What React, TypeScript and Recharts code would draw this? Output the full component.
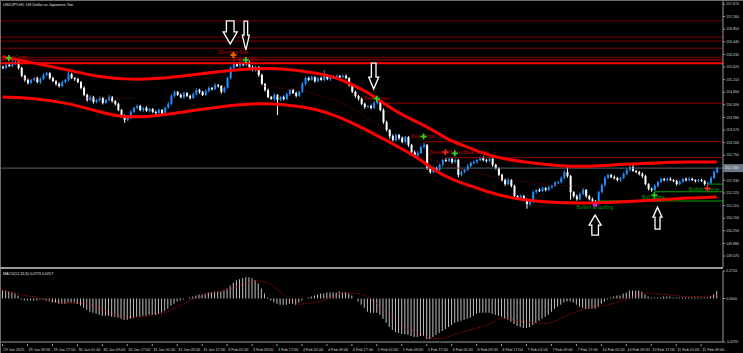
import React from 'react'
import { ComposedChart, Bar, Line, XAxis, YAxis, ReferenceLine, ReferenceDot } from 'recharts'

// USDJPY H1 closes (open = previous close)
const open0 = 155.62
const closes = [
  155.59, 155.69, 155.65, 155.75, 155.78, 155.59, 155.33, 155.2, 155.1, 155.2,
  155.26, 155.13, 155.23, 155.36, 155.42, 155.26, 155.16, 155.07, 155.0, 155.13,
  155.2, 155.39, 155.26, 155.23, 155.13, 154.94, 154.71, 154.55, 154.64, 154.48,
  154.55, 154.61, 154.45, 154.55, 154.64, 154.51, 154.42, 154.22, 154.03, 153.9,
  153.96, 154.16, 154.29, 154.35, 154.22, 154.29, 154.19, 154.25, 154.16, 154.12,
  154.22, 154.09, 154.29, 154.42, 154.68, 154.81, 154.71, 154.64, 154.77, 154.68,
  154.61, 154.74, 154.87, 154.81, 154.71, 154.84, 154.94, 154.9, 155.03, 155.0,
  154.81, 154.94, 155.26, 155.59, 155.72, 155.65, 155.75, 155.69, 155.78, 155.62,
  155.52, 155.62, 155.36, 155.07, 154.87, 154.64, 154.58, 154.71, 154.55, 154.64,
  154.58, 154.74, 154.87, 154.77, 154.68, 154.81, 155.07, 155.26, 155.2, 155.29,
  155.16, 155.26, 155.2, 155.33, 155.23, 155.29, 155.26, 155.33, 155.29, 155.33,
  155.26, 155.03, 154.81, 154.68, 154.58, 154.42, 154.32, 154.35, 154.29, 154.45,
  154.51, 154.22, 153.83, 153.57, 153.37, 153.24, 153.41, 153.31, 153.18, 153.34,
  153.08, 152.85, 152.72, 152.82, 153.02, 153.08, 152.33, 152.2, 152.33, 152.27,
  152.43, 152.59, 152.56, 152.63, 152.53, 152.59, 152.11, 152.2, 152.27, 152.4,
  152.5, 152.53, 152.59, 152.66, 152.59, 152.56, 152.63, 152.43, 152.33, 152.11,
  151.94, 151.81, 151.94, 151.75, 151.42, 151.36, 151.42, 151.32, 151.16, 151.23,
  151.55, 151.62, 151.58, 151.68, 151.62, 151.71, 151.75, 151.85, 151.88, 152.01,
  152.2, 152.07, 151.55, 151.42, 151.32, 151.49, 151.62, 151.42, 151.32, 151.26,
  151.19, 151.55, 151.78, 152.01, 152.11, 152.04, 152.01, 151.94, 152.01, 152.14,
  152.27, 152.37, 152.24, 152.2, 152.14, 152.07, 151.81, 151.65, 151.62, 151.75,
  151.88, 151.98, 151.94, 151.98, 151.94, 151.91, 151.81, 151.88, 151.98, 151.94,
  151.98, 151.94, 151.91, 151.94, 151.91, 151.81, 151.85, 152.01, 152.2, 152.33,
]

// wick lengths above / below the body, in pips
const upWick = [
  5, 4, 6, 16, 5, 4, 3, 4, 5, 4, 3, 5, 4, 6, 4, 3, 4, 3, 5, 4,
  3, 13, 4, 3, 4, 3, 5, 4, 6, 4, 3, 5, 4, 3, 6, 4, 3, 4, 3, 5,
  4, 6, 3, 5, 4, 3, 5, 4, 3, 4, 5, 3, 4, 6, 5, 4, 3, 5, 4, 3,
  4, 5, 6, 4, 3, 5, 4, 3, 6, 4, 3, 5, 4, 6, 8, 5, 20, 4, 6, 4,
  5, 4, 3, 4, 3, 5, 4, 6, 3, 4, 5, 4, 3, 4, 5, 3, 6, 5, 4, 5,
  3, 4, 5, 19, 4, 3, 5, 4, 3, 4, 5, 3, 4, 4, 3, 5, 4, 3, 5, 6,
  4, 3, 5, 4, 3, 6, 4, 3, 5, 4, 3, 4, 5, 6, 4, 8, 3, 4, 5, 4,
  5, 4, 6, 4, 3, 5, 4, 5, 3, 6, 4, 5, 3, 4, 6, 4, 3, 5, 4, 3,
  4, 5, 6, 3, 4, 3, 5, 4, 3, 5, 4, 3, 5, 4, 3, 5, 4, 6, 4, 5,
  6, 20, 4, 3, 5, 4, 6, 3, 4, 5, 3, 4, 5, 6, 4, 3, 5, 4, 3, 5,
  4, 12, 5, 3, 4, 5, 4, 3, 5, 6, 4, 5, 3, 4, 5, 3, 4, 6, 3, 4,
  5, 4, 3, 4, 5, 3, 4, 5, 6, 4,
]
const dnWick = [
  4, 5, 3, 4, 6, 5, 4, 6, 5, 3, 5, 4, 6, 3, 4, 5, 3, 6, 5, 4,
  4, 5, 3, 6, 4, 5, 4, 6, 3, 5, 4, 6, 5, 3, 4, 5, 6, 4, 5, 10,
  5, 4, 3, 5, 4, 6, 3, 5, 4, 6, 3, 5, 4, 3, 4, 5, 3, 4, 6, 4,
  5, 3, 4, 6, 4, 3, 5, 4, 3, 5, 6, 4, 3, 5, 4, 3, 6, 5, 4, 5,
  4, 5, 6, 4, 5, 4, 3, 6, 50, 4, 5, 4, 6, 3, 5, 4, 3, 5, 4, 3,
  5, 4, 3, 5, 4, 6, 3, 4, 5, 3, 4, 5, 4, 6, 5, 4, 6, 3, 5, 4,
  5, 4, 6, 5, 8, 4, 5, 6, 4, 5, 6, 4, 5, 3, 4, 5, 6, 5, 4, 6,
  4, 5, 3, 4, 6, 4, 8, 5, 4, 3, 5, 4, 6, 3, 4, 5, 4, 6, 5, 4,
  5, 6, 4, 5, 6, 4, 5, 4, 15, 6, 4, 5, 3, 4, 5, 4, 6, 3, 4, 5,
  4, 5, 25, 6, 5, 4, 5, 6, 4, 5, 12, 4, 5, 6, 3, 4, 5, 4, 6, 3,
  4, 5, 3, 4, 5, 6, 4, 5, 6, 4, 5, 3, 4, 5, 3, 4, 5, 4, 3, 5,
  4, 3, 5, 4, 3, 5, 6, 4, 3, 4,
]

// envelope bands, [bar, price]
const upperBand = [
  [0, 155.95], [10, 155.75], [21, 155.52], [31, 155.29], [42, 155.2], [53, 155.26],
  [63, 155.39], [74, 155.52], [85, 155.59], [95, 155.52], [106, 155.33], [111, 155.1],
  [117, 154.81], [122, 154.45], [127, 154.12], [133, 153.83], [138, 153.57], [143, 153.24],
  [149, 153.02], [154, 152.82], [159, 152.66], [167, 152.53], [178, 152.4], [188, 152.37],
  [199, 152.46], [210, 152.5], [220, 152.53], [229, 152.53],
]
const lowerBand = [
  [0, 154.64], [10, 154.61], [21, 154.45], [31, 154.16], [38, 153.99], [47, 153.99],
  [58, 154.16], [69, 154.32], [80, 154.44], [90, 154.42], [101, 154.25],
  [108, 153.99], [115, 153.67], [124, 153.18], [133, 152.69], [139, 152.2], [146, 151.88],
  [154, 151.62], [159, 151.45], [167, 151.29], [178, 151.19], [188, 151.19], [199, 151.23],
  [210, 151.29], [220, 151.36], [229, 151.39],
]
// visible pieces of the dotted average
const maSegments = [
  [[0, 155.29], [12, 155.2]],
  [[26, 154.61], [42, 154.61]],
  [[83, 155.0], [95, 154.87]],
  [[96, 154.87], [110, 154.38], [123, 153.57]],
  [[130, 152.82], [158, 152.04], [187, 151.71]],
]

const resistLevels = [157.12, 156.59, 156.46, 156.23]
const zoneLevels = [155.93, 155.85, 155.74]
const partialLevels = [[122, 154.44], [135, 153.19], [142, 152.67]]
const supportLevels = [[191, 151.26], [209, 151.56], [226, 151.81]]

const bearTexts = [
  [0, 155.93, 'Bear Cross'], [69, 156.11, 'Shooting Star'], [74, 155.88, 'Bear Cross'],
  [116, 154.61, 'Bear Cross'], [131, 153.37, 'Bear Cross'], [137, 152.85, 'Bearish Harami'],
  [148, 152.85, 'Bear Cross'],
]
const bullTexts = [
  [184, 151.06, 'Bullish Engulfing'], [205, 151.38, 'Bull Cross'], [220, 151.64, 'Bullish Pierce'],
]
const marks = [
  [2, 155.91, 'cross'], [74, 156.01, 'star'], [78, 155.85, 'cross'], [120, 154.59, 'cross'],
  [135, 153.36, 'cross'], [142, 152.85, 'harami'], [145, 152.81, 'cross'],
  [190, 151.13, 'engulf'], [209, 151.45, 'cross'], [226, 151.67, 'pierce'],
]
const bigArrows = [
  [73, 156.37, 'down'], [78, 156.17, 'down'], [119, 154.9, 'down'], [190, 150.8, 'up'], [210, 151.06, 'up'],
]

// MACD histogram and signal
const hist = [
  0.08, 0.08, 0.07, 0.06, 0.05, 0.03, -0.01, -0.02, -0.02, -0.02,
  -0.02, -0.02, -0.01, -0.01, -0.02, -0.03, -0.04, -0.04, -0.05, -0.05,
  -0.05, -0.04, -0.04, -0.04, -0.05, -0.07, -0.09, -0.11, -0.13, -0.14,
  -0.15, -0.16, -0.17, -0.17, -0.17, -0.18, -0.18, -0.19, -0.2, -0.21,
  -0.21, -0.2, -0.19, -0.18, -0.18, -0.17, -0.17, -0.16, -0.16, -0.16,
  -0.15, -0.14, -0.12, -0.1, -0.07, -0.05, -0.03, -0.02, -0.01, 0,
  0.01, 0.02, 0.03, 0.04, 0.04, 0.05, 0.06, 0.06, 0.07, 0.07,
  0.07, 0.08, 0.1, 0.13, 0.16, 0.18, 0.19, 0.2, 0.21, 0.21,
  0.2, 0.18, 0.15, 0.1, 0.05, 0.01, -0.02, -0.04, -0.05, -0.06,
  -0.06, -0.06, -0.05, -0.05, -0.06, -0.04, -0.02, 0, 0.01, 0.02,
  0.03, 0.04, 0.05, 0.05, 0.06, 0.06, 0.06, 0.06, 0.07, 0.06,
  0.06, 0.05, 0.03, 0, -0.03, -0.06, -0.09, -0.13, -0.14, -0.14,
  -0.14, -0.16, -0.2, -0.24, -0.28, -0.31, -0.33, -0.34, -0.35, -0.35,
  -0.36, -0.37, -0.38, -0.38, -0.37, -0.37, -0.4, -0.4, -0.38, -0.36,
  -0.34, -0.32, -0.3, -0.28, -0.26, -0.24, -0.23, -0.22, -0.21, -0.2,
  -0.19, -0.17, -0.15, -0.14, -0.14, -0.14, -0.14, -0.15, -0.16, -0.17,
  -0.18, -0.2, -0.21, -0.23, -0.25, -0.27, -0.28, -0.29, -0.29, -0.28,
  -0.26, -0.24, -0.22, -0.2, -0.18, -0.16, -0.13, -0.1, -0.08, -0.06,
  -0.04, -0.03, -0.03, -0.04, -0.06, -0.08, -0.09, -0.1, -0.1, -0.1,
  -0.1, -0.08, -0.05, -0.03, -0.01, 0.01, 0.02, 0.03, 0.03, 0.05,
  0.06, 0.08, 0.08, 0.08, 0.08, 0.07, 0.04, 0.02, 0.01, 0.01,
  0.01, 0.01, 0.02, 0.02, 0.02, 0.01, 0.01, 0.01, 0.01, 0.01,
  0.01, 0.01, 0.01, 0.01, 0.01, 0.01, 0.01, 0.02, 0.04, 0.077,
]
const signal = [
  [0, 0.085], [13, -0.005], [21, -0.045], [25, -0.045], [40, -0.185], [51, -0.145],
  [62, 0.005], [74, 0.105], [82, 0.175], [85, 0.155], [90, 0.045], [95, -0.055],
  [102, -0.025], [110, 0.055], [115, 0.045], [118, -0.005], [124, -0.155], [132, -0.325],
  [139, -0.395], [148, -0.325], [158, -0.225], [160, -0.19], [166, -0.225], [174, -0.245],
  [182, -0.155], [187, -0.095], [195, -0.055], [201, 0.005], [206, 0.055], [214, 0.035],
  [220, 0.02], [229, 0.026],
]

const priceTicks = [157.67, 157.26, 156.85, 156.44, 156.03, 155.62, 155.21, 154.8, 154.39, 153.98,
  153.57, 153.16, 152.75, 151.93, 151.52, 151.11, 150.7, 150.29, 149.88, 149.47]
const macdTicks = [0.2724, 0, -0.429]
const timeBars = [0, 8, 16, 24, 32, 40, 48, 56, 64, 72, 80, 88, 96, 104, 112, 120, 128, 136, 144,
  152, 160, 168, 176, 184, 192, 200, 208, 216, 224]
const timeLabels = ['29 Jan 2025', '29 Jan 09:00', '29 Jan 17:00', '30 Jan 01:00', '30 Jan 09:00',
  '30 Jan 17:00', '31 Jan 01:00', '31 Jan 09:00', '31 Jan 17:00', '3 Feb 01:00', '3 Feb 09:00',
  '3 Feb 17:00', '4 Feb 01:00', '4 Feb 09:00', '4 Feb 17:00', '5 Feb 01:00', '5 Feb 09:00',
  '5 Feb 17:00', '6 Feb 01:00', '6 Feb 09:00', '6 Feb 17:00', '7 Feb 01:00', '7 Feb 09:00',
  '7 Feb 17:00', '10 Feb 01:00', '10 Feb 09:00', '10 Feb 17:00', '11 Feb 01:00', '11 Feb 09:00']

const bid = closes[closes.length - 1]

const rows: any[] = closes.map((c, i) => {
  const o = i === 0 ? open0 : closes[i - 1]
  const hi = Math.max(o, c) + upWick[i] / 100
  const lo = Math.min(o, c) - dnWick[i] / 100
  return { i, o, c, hi, lo, range: [lo, hi], macd: hist[i] }
})
upperBand.forEach(([i, v]) => { rows[i].up = v })
lowerBand.forEach(([i, v]) => { rows[i].dn = v })
signal.forEach(([i, v]) => { rows[i].sig = v })
maSegments.forEach((seg, k) => seg.forEach(([i, v]) => { rows[i]['ma' + k] = v }))

const FONT = 'Liberation Sans, Arial, sans-serif'
const X_DOMAIN: [number, number] = [-0.5, 231]
const zoneStroke = ['#5a0000', '#8a0000', '#ff0000']
const zoneWidth = [1.5, 1.2, 2]

const Candle = (props: any) => {
  const { x, y, width, height, payload } = props
  if (!payload) return null
  const { o, c, hi, lo } = payload
  const top = Math.min(y, y + height)
  const h = Math.abs(height)
  const py = (v: number) => top + ((hi - v) / (hi - lo)) * h
  const col = c > o ? '#1e90ff' : '#ffffff'
  const cx = x + width / 2
  const bt = py(Math.max(o, c))
  const bb = py(Math.min(o, c))
  return (
    <g>
      <line x1={cx} x2={cx} y1={top} y2={top + h} stroke={col} strokeWidth={1} />
      <rect x={x} y={bt} width={width} height={Math.max(1, bb - bt)} fill={col} />
    </g>
  )
}

const PriceTick = ({ x, y, payload }: any) => {
  const v = payload.value
  if (v === bid) {
    return (
      <g>
        <rect x={x} y={y - 4} width={20} height={8} fill="#6b7885" />
        <text x={x + 2} y={y + 1.4} fontSize={3.8} fontFamily={FONT} fill="#e8e8e8">{v.toFixed(3)}</text>
      </g>
    )
  }
  return (
    <g>
      <line x1={x} x2={x + 2} y1={y} y2={y} stroke="#9a9a9a" />
      <text x={x + 3} y={y + 1.3} fontSize={3.6} fontFamily={FONT} fill="#d0d0d0">{v.toFixed(3)}</text>
    </g>
  )
}

const MacdTick = ({ x, y, payload }: any) => (
  <g>
    <line x1={x} x2={x + 2} y1={y} y2={y} stroke="#9a9a9a" />
    <text x={x + 3} y={y + 1.3} fontSize={3.6} fontFamily={FONT} fill="#d0d0d0">{payload.value.toFixed(4)}</text>
  </g>
)

const TimeTick = ({ x, y, payload }: any) => {
  const k = timeBars.indexOf(payload.value)
  return (
    <g>
      <line x1={x} x2={x} y1={y} y2={y + 2} stroke="#9a9a9a" />
      <text x={x + 1} y={y + 7} fontSize={3.8} fontFamily={FONT} fill="#d0d0d0">{timeLabels[k]}</text>
    </g>
  )
}

const textShape = (label: string, color: string) => (p: any) => (
  <text x={p.cx} y={p.cy + 1.8} fontSize={5} fontFamily={FONT} fill={color}>{label}</text>
)

const markColor: Record<string, string> = {
  cross: '#22e022', star: '#ff7a00', harami: '#ff2020', pierce: '#ff2020', engulf: '#ff00ff',
}
const markShape = (kind: string) => (p: any) => {
  const col = markColor[kind]
  if (kind === 'engulf') return <circle cx={p.cx} cy={p.cy} r={2} fill={col} />
  return (
    <g fill={col}>
      <rect x={p.cx - 0.8} y={p.cy - 3} width={1.6} height={6} />
      <rect x={p.cx - 3} y={p.cy - 0.8} width={6} height={1.6} />
    </g>
  )
}

// head width, shaft width, total length, head length
const arrowSize = [[7, 3.8, 23, 12], [3.5, 1.8, 29, 15], [5, 2.3, 26, 12], [6, 3.3, 20, 10], [4.5, 2.5, 22, 10]]
const arrowShape = (dir: string, k: number) => (p: any) => {
  const [W, w, H, hh] = arrowSize[k]
  const s = dir === 'down' ? -1 : 1
  const { cx, cy } = p
  const pts = [[cx - w, cy + s * H], [cx + w, cy + s * H], [cx + w, cy + s * hh], [cx + W, cy + s * hh],
    [cx, cy], [cx - W, cy + s * hh], [cx - w, cy + s * hh]]
  return <polygon points={pts.map((q) => q.join(',')).join(' ')} fill="#000" stroke="#fff" strokeWidth={1.3} />
}

export default function App() {
  return (
    <div style={{ position: 'absolute', left: 0, top: 0, width: 743, height: 353, background: '#000', overflow: 'hidden' }}>
      <div style={{ position: 'absolute', left: 0, top: 0 }}>
        <ComposedChart width={743} height={268} data={rows} margin={{ top: 1, right: 0, bottom: 1, left: 1 }}>
          <XAxis dataKey="i" type="number" domain={X_DOMAIN} hide allowDataOverflow />
          <YAxis orientation="right" width={20} domain={[149.112, 157.767]} allowDataOverflow
            ticks={[...priceTicks, bid]} interval={0} tick={<PriceTick />} tickLine={false} tickSize={0} tickMargin={0}
            axisLine={{ stroke: '#9a9a9a' }} />
          {resistLevels.map((v) => <ReferenceLine key={v} y={v} stroke="#7a0000" strokeWidth={1} />)}
          {zoneLevels.map((v, k) => (
            <ReferenceLine key={v} y={v} stroke={zoneStroke[k]} strokeWidth={zoneWidth[k]} />
          ))}
          {partialLevels.map(([i, v]) => (
            <ReferenceLine key={v} segment={[{ x: i, y: v }, { x: 231, y: v }]} stroke="#8a0000" strokeWidth={1} />
          ))}
          {supportLevels.map(([i, v]) => (
            <ReferenceLine key={v} segment={[{ x: i, y: v }, { x: 231, y: v }]} stroke="#00a000" strokeWidth={1} />
          ))}
          <ReferenceLine y={bid} stroke="#56616c" strokeWidth={1} />
          <Bar dataKey="range" barSize={2} shape={<Candle />} isAnimationActive={false} />
          {maSegments.map((_, k) => (
            <Line key={k} dataKey={'ma' + k} type="monotone" connectNulls dot={false} stroke="#8b0000"
              strokeWidth={1} strokeDasharray="1 2" isAnimationActive={false} />
          ))}
          <Line dataKey="up" type="basis" connectNulls dot={false} stroke="#ff0000" strokeWidth={3} isAnimationActive={false} />
          <Line dataKey="dn" type="basis" connectNulls dot={false} stroke="#ff0000" strokeWidth={3} isAnimationActive={false} />
          {bearTexts.map(([i, v, t]: any, k) => (
            <ReferenceDot key={'bt' + k} x={i} y={v} r={1} ifOverflow="visible" shape={textShape(t, '#b40000')} />
          ))}
          {bullTexts.map(([i, v, t]: any, k) => (
            <ReferenceDot key={'gt' + k} x={i} y={v} r={1} ifOverflow="visible" shape={textShape(t, '#00a000')} />
          ))}
          {marks.map(([i, v, kind]: any, k) => (
            <ReferenceDot key={'m' + k} x={i} y={v} r={1} ifOverflow="visible" shape={markShape(kind)} />
          ))}
          {bigArrows.map(([i, v, dir]: any, k) => (
            <ReferenceDot key={'a' + k} x={i} y={v} r={1} ifOverflow="visible" shape={arrowShape(dir, k)} />
          ))}
        </ComposedChart>
      </div>
      <div style={{ position: 'absolute', left: 0, top: 268 }}>
        <ComposedChart width={743} height={85} data={rows} margin={{ top: 3, right: 0, bottom: 0, left: 1 }}>
          <XAxis dataKey="i" type="number" domain={X_DOMAIN} allowDataOverflow ticks={timeBars} interval={0}
            tick={<TimeTick />} tickLine={false} tickSize={0} height={11} axisLine={{ stroke: '#9a9a9a' }} />
          <YAxis orientation="right" width={20} domain={[-0.429, 0.2724]} allowDataOverflow ticks={macdTicks}
            interval={0} tick={<MacdTick />} tickLine={false} tickSize={0} tickMargin={0} axisLine={{ stroke: '#9a9a9a' }} />
          <Bar dataKey="macd" barSize={1} fill="#c0c0c0" isAnimationActive={false} />
          <Line dataKey="sig" type="monotone" connectNulls dot={false} stroke="#d01010" strokeWidth={1}
            strokeDasharray="1 1.5" isAnimationActive={false} />
        </ComposedChart>
      </div>
      <div style={{ position: 'absolute', left: 0, top: 0, width: 743, height: 1, background: '#6e6e6e' }} />
      <div style={{ position: 'absolute', left: 0, top: 0, width: 1, height: 353, background: '#6e6e6e' }} />
      <div style={{ position: 'absolute', left: 0, top: 267, width: 723, height: 2, background: '#9a9a9a' }} />
      <svg width={743} height={353} style={{ position: 'absolute', left: 0, top: 0, pointerEvents: 'none' }}>
        <text x={3} y={6} fontSize={3.9} fontFamily={FONT} fill="#e0e0e0">USDJPY,H1:  US Dollar vs Japanese Yen</text>
        <text x={3} y={275} fontSize={3.7} fontFamily={FONT} fill="#e0e0e0">MACD(12,26,9) 0.0773 0.0257</text>
      </svg>
    </div>
  )
}
